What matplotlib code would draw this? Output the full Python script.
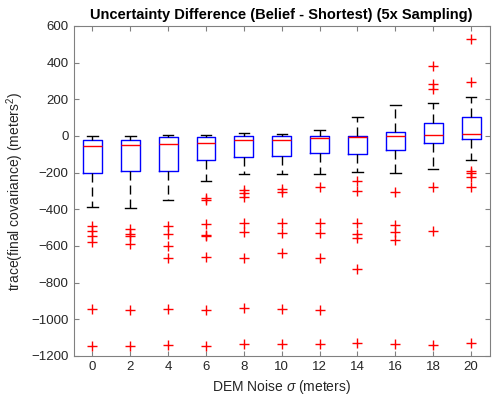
import matplotlib
matplotlib.use('Agg')
import matplotlib.pyplot as plt

plt.rcParams['font.family'] = ['Liberation Sans', 'DejaVu Sans']
plt.rcParams['mathtext.fontset'] = 'custom'
plt.rcParams['mathtext.it'] = 'Liberation Sans:italic'
plt.rcParams['mathtext.rm'] = 'Liberation Sans'

# DEM noise levels (meters)
noise = [0, 2, 4, 6, 8, 10, 12, 14, 16, 18, 20]

# box statistics
medians = [-55, -49, -45, -40, -24, -22, -13, -5, 0, 4, 13]
q1 = [-204, -191, -191, -131, -115, -109, -94, -96, -78, -40, -14]
q3 = [-20, -20, -7, -5, 0, 0, 0, 0, 24, 71, 102]
whisker_lo = [-385, -391, -351, -245, -209, -205, -205, -194, -200, -182, -133]
whisker_hi = [2, 0, 5, 5, 18, 9, 31, 104, 167, 182, 213]
outliers = [
    [-491, -518, -545, -576, -942, -1146],
    [-505, -535, -545, -587, -951, -1146],
    [-491, -533, -600, -667, -946, -1140],
    [-340, -349, -482, -538, -548, -660, -951, -1146],
    [-295, -313, -333, -476, -523, -665, -940, -1133],
    [-287, -305, -473, -527, -638, -942, -1133],
    [-276, -473, -527, -666, -951, -1133],
    [-245, -302, -473, -533, -555, -725, -1127],
    [-305, -487, -523, -569, -1136],
    [382, 282, 255, -278, -518, -1142],
    [531, 295, -191, -203, -221, -276, -1127],
]

stats = []
for i in range(len(noise)):
    stats.append({'med': medians[i], 'q1': q1[i], 'q3': q3[i],
                  'whislo': whisker_lo[i], 'whishi': whisker_hi[i],
                  'fliers': outliers[i]})

fig = plt.figure(figsize=(4.93, 3.99), dpi=100)
ax = fig.add_axes([73.5 / 493, 1 - 356 / 399, (490 - 73.5) / 493, (356 - 26) / 399])

ax.bxp(stats, positions=noise, widths=1.0, capwidths=0.55,
       boxprops=dict(color='blue', linewidth=1.0),
       medianprops=dict(color='red', linewidth=1.0),
       whiskerprops=dict(color='black', linestyle=(0, (6.5, 3.6)), linewidth=1.0),
       capprops=dict(color='black', linewidth=1.0),
       flierprops=dict(marker='+', markeredgecolor='red', markersize=7,
                       markeredgewidth=1.0, linestyle='none'))

ax.set_xlim(-1, 21)
ax.set_ylim(-1200, 600)
ax.set_xticks(noise)
ax.set_xticklabels([str(n) for n in noise])
ax.set_yticks(range(-1200, 601, 200))

grey = '#262626'
for s in ax.spines.values():
    s.set_color('#808080')
    s.set_linewidth(0.8)
ax.tick_params(direction='in', top=True, right=True, length=3.5,
               color='#808080', labelcolor=grey, labelsize=9.5)

ax.set_xlabel('DEM Noise $\\sigma$ (meters)', fontsize=10, color=grey)
ax.set_ylabel('trace(final covariance) (meters$^2$)', fontsize=10, color=grey)
ax.set_title('Uncertainty Difference (Belief - Shortest) (5x Sampling)',
             fontsize=10.5, fontweight='bold', pad=5)

fig.savefig('out.png', dpi=100)
